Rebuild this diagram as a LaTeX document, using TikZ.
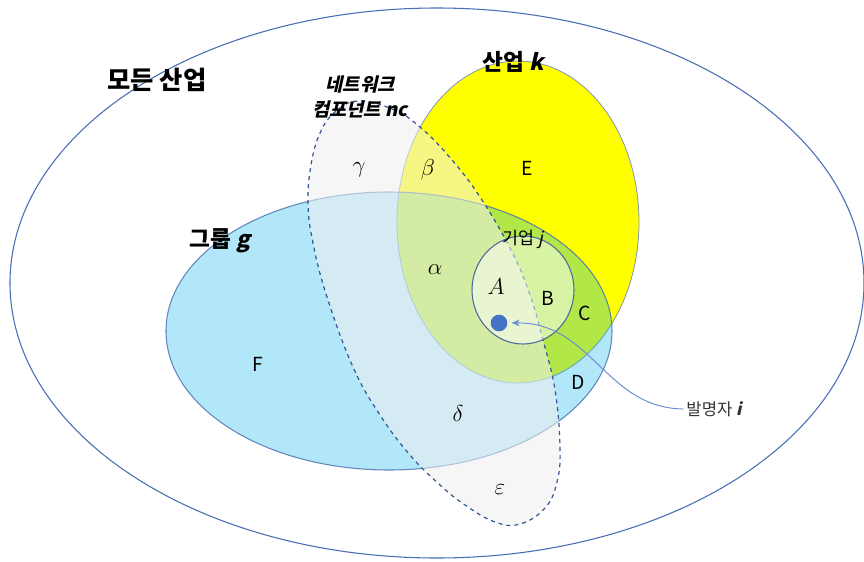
\documentclass[tikz,border=0pt]{standalone}
\usepackage{fontspec}
\setmainfont{Noto Sans CJK KR}
\newfontfamily\krsl{Noto Sans CJK KR}[FakeSlant=0.22]
\usetikzlibrary{arrows.meta}
\definecolor{outerc}{RGB}{72,110,180}
\definecolor{yel}{RGB}{255,255,0}
\definecolor{ylc}{RGB}{130,150,175}
\definecolor{grpc}{RGB}{0,176,240}
\definecolor{grpline}{RGB}{70,110,170}
\definecolor{ncfill}{RGB}{240,240,240}
\definecolor{ncline}{RGB}{50,85,150}
\definecolor{firml}{RGB}{80,105,150}
\definecolor{dotc}{RGB}{68,114,196}
\definecolor{arrc}{RGB}{100,140,210}
\newcommand{\slt}[1]{{\krsl #1}}
\begin{document}
\begin{tikzpicture}[x=0.75pt,y=-0.75pt,
  title/.style={font=\fontsize{17}{20}\selectfont\bfseries, inner sep=1pt},
  bigtitle/.style={font=\fontsize{19}{22}\selectfont\bfseries, inner sep=1pt},
  nclab/.style={font=\fontsize{14}{19}\selectfont\krsl\bfseries, align=center, inner sep=1pt},
  firmlab/.style={font=\fontsize{13}{15}\selectfont, inner sep=1pt},
  invlab/.style={font=\fontsize{12.5}{15}\selectfont, text=black!80, inner sep=2pt},
  letter/.style={font=\fontsize{14.5}{16}\selectfont, inner sep=0pt},
  greek/.style={font=\fontsize{17}{20}\selectfont, inner sep=0pt},
]
\useasboundingbox (0,0) rectangle (864,561);
\fill[white] (0,0) rectangle (864,561);
% all industries
\draw[outerc, line width=0.8pt] (437,283) ellipse [x radius=427, y radius=275];
% industry k
\filldraw[fill=yel, draw=ylc, line width=0.6pt] (518,222) ellipse [x radius=121, y radius=161];
% group g
\filldraw[fill=grpc, fill opacity=0.3, draw=grpline, draw opacity=0.8, line width=0.8pt] (389,331) ellipse [x radius=223, y radius=139];
% network component nc
\filldraw[fill=ncfill, fill opacity=0.55, draw=ncline, dashed, line width=0.9pt]
  plot[smooth cycle, tension=0.7] coordinates {
  (358,101) (392,109) (420,127) (452,160) (482,200) (512,252) (530,295)
  (543,340) (555,390) (560,447) (557,482) (545,508) (520,524) (495,522)
  (465,505) (440,485) (410,455) (380,415) (353,367) (327,297) (313,243)
  (308,203) (311,165) (320,133) (335,112)};
% firm j
\filldraw[fill=white, fill opacity=0.5, draw=firml, line width=0.8pt] (523,290) ellipse [x radius=51, y radius=54];
% inventor dot
\node[circle, fill=dotc, minimum size=12.5pt, inner sep=0pt] (inv) at (499,323) {};
% labels
\node[bigtitle] (all) at (157,80) {모든 산업};
\node[title] (indk) at (513,62) {산업 \slt{k}};
\node[title] (grp) at (220,241) {그룹 \slt{g}};
\node[nclab] (nc) at (360,97) {네트워크\\컴포넌트 nc};
\node[firmlab] (firm) at (523,239) {기업 \slt{j}};
\node[invlab] (lbl) at (714,409) {발명자 \slt{\bfseries i}};
\draw[arrc, line width=0.7pt, -{Stealth[length=6pt,width=5pt]}, shorten >=3pt]
  (lbl.west) .. controls (605,408) and (592,322) .. (inv.east);
% region letters
\node[greek] (gam) at (359,170) {$\gamma$};
\node[greek] (bet) at (428,170) {$\beta$};
\node[greek] (alp) at (435,270) {$\alpha$};
\node[greek] (aa) at (496,287) {$A$};
\node[greek] (del) at (458,413) {$\delta$};
\node[greek] (eps) at (500,490) {$\varepsilon$};
\node[letter] (e) at (527,168) {E};
\node[letter] (b) at (548,298) {B};
\node[letter] (c) at (585,313) {C};
\node[letter] (d) at (578,382) {D};
\node[letter] (f) at (258,364) {F};
\end{tikzpicture}
\end{document}
